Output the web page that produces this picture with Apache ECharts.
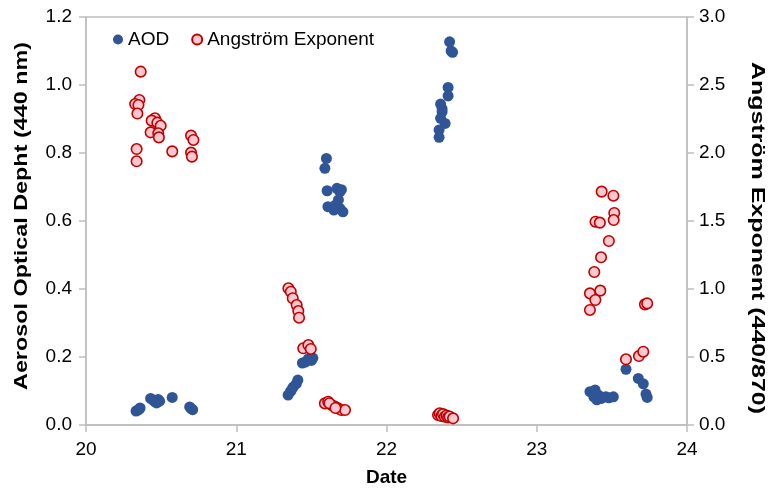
<!DOCTYPE html>
<html>
<head>
<meta charset="utf-8">
<script src="https://cdn.jsdelivr.net/npm/echarts@6/dist/echarts.min.js"></script>
<style>
html,body{margin:0;padding:0;background:#fff;}
#c{width:769px;height:489px;}
</style>
</head>
<body>
<div id="c"></div>
<script>
// AOD (left axis)
const aodDate = [
  20.333,20.345,20.355,20.36,20.43,20.45,20.47,20.48,20.49,20.46,20.574,20.69,20.70,20.71,
  21.345,21.36,21.37,21.38,21.40,21.41,21.44,21.46,21.48,21.50,21.51,
  21.60,21.59,21.605,21.67,21.69,21.68,21.61,21.65,21.69,21.71,21.66,21.70,
  22.42,22.44,22.43,22.41,22.41,22.36,22.37,22.36,22.39,22.35,22.35,22.37,
  23.354,23.388,23.38,23.41,23.43,23.46,23.51,23.40,23.48,23.594,23.676,23.709,23.727,23.735
];
const aodValue = [
  0.041,0.044,0.047,0.050,0.078,0.072,0.065,0.075,0.070,0.068,0.081,0.053,0.048,0.045,
  0.088,0.098,0.105,0.112,0.122,0.132,0.182,0.185,0.195,0.190,0.197,
  0.784,0.755,0.689,0.696,0.686,0.662,0.642,0.632,0.637,0.627,0.647,0.692,
  1.127,1.096,1.100,0.993,0.968,0.944,0.921,0.902,0.887,0.868,0.846,0.930,
  0.098,0.103,0.083,0.088,0.078,0.083,0.083,0.074,0.080,0.164,0.137,0.121,0.091,0.081
];
// Angström Exponent (right axis)
const aeDate = [
  20.364,20.355,20.327,20.349,20.342,20.459,20.437,20.475,20.497,20.43,20.481,20.485,20.337,20.337,20.574,20.699,20.715,20.699,20.705,
  21.347,21.363,21.376,21.402,21.413,21.418,21.446,21.48,21.496,21.59,21.612,21.634,21.656,21.678,21.70,21.724,21.62,21.66,
  22.343,22.354,22.365,22.376,22.388,22.40,22.41,22.42,22.443,
  23.432,23.51,23.516,23.512,23.391,23.42,23.48,23.428,23.383,23.423,23.354,23.39,23.354,23.72,23.735,23.594,23.68,23.709
];
const aeValue = [
  2.598,2.39,2.36,2.353,2.29,2.255,2.238,2.223,2.20,2.152,2.145,2.115,2.029,1.939,2.012,2.128,2.096,2.003,1.973,
  1.005,0.98,0.932,0.882,0.838,0.789,0.564,0.588,0.559,0.159,0.171,0.147,0.135,0.122,0.110,0.110,0.16,0.125,
  0.074,0.086,0.066,0.080,0.061,0.070,0.056,0.062,0.049,
  1.716,1.686,1.559,1.507,1.495,1.488,1.353,1.233,1.125,0.988,0.968,0.919,0.846,0.887,0.894,0.483,0.507,0.539
];
const xTicks = [20,21,22,23,24];
const seriesNames = ['AOD','Angström Exponent'];
const axisTitles = ['Date','Aerosol Optical Depht (440 nm)','Angström Exponent (440/870)'];

const font = 'Liberation Sans, Arial, sans-serif';
const axisCol = '#bfbfbf';
const titleFont = 'bold 19px ' + font;
const chart = echarts.init(document.getElementById('c'));
const pairs = (xs, ys) => xs.map((x, i) => [x, ys[i]]);

// measure title widths to stretch them like the reference
const ctx = document.createElement('canvas').getContext('2d');
ctx.font = titleFont;
const wLeft = ctx.measureText(axisTitles[1]).width;
const wRight = ctx.measureText(axisTitles[2]).width;

chart.setOption({
  animation: false,
  grid: {left: 86, right: 82, top: 17, bottom: 64, show: true, borderColor: axisCol, borderWidth: 1.5,
         containLabel: false, outerBoundsMode: 'none'},
  legend: {
    left: 108, top: 25, itemGap: 22, itemWidth: 10, itemHeight: 10,
    textStyle: {fontFamily: font, fontSize: 19, color: '#000'},
    data: [
      {name: seriesNames[0], icon: 'circle'},
      {name: seriesNames[1], icon: 'circle'}
    ]
  },
  graphic: [
    {type: 'text', x: 22, y: 216, rotation: Math.PI / 2, scaleX: 348 / wLeft,
     style: {text: axisTitles[1], font: titleFont, fill: '#000', align: 'center', verticalAlign: 'middle'}},
    {type: 'text', x: 757, y: 238, rotation: -Math.PI / 2, scaleX: 352 / wRight,
     style: {text: axisTitles[2], font: titleFont, fill: '#000', align: 'center', verticalAlign: 'middle'}}
  ],
  xAxis: {
    type: 'value', min: xTicks[0], max: xTicks[xTicks.length - 1], interval: 1,
    name: axisTitles[0], nameLocation: 'middle', nameGap: 43,
    nameTextStyle: {fontFamily: font, fontSize: 19, fontWeight: 'bold', color: '#000'},
    axisLine: {show: true, lineStyle: {color: axisCol, width: 1.5}},
    axisTick: {show: true, length: 7, lineStyle: {color: axisCol, width: 1.5}},
    axisLabel: {fontFamily: font, fontSize: 19, color: '#000', margin: 15},
    splitLine: {show: false}
  },
  yAxis: [
    {
      type: 'value', min: 0, max: 1.2, interval: 0.2, position: 'left',
      axisLine: {show: true, lineStyle: {color: axisCol, width: 1.5}},
      axisTick: {show: true, length: 7, lineStyle: {color: axisCol, width: 1.5}},
      axisLabel: {fontFamily: font, fontSize: 19, color: '#000', margin: 14, formatter: v => v.toFixed(1)},
      splitLine: {show: false}
    },
    {
      type: 'value', min: 0, max: 3.0, interval: 0.5, position: 'right',
      axisLine: {show: true, lineStyle: {color: axisCol, width: 1.5}},
      axisTick: {show: true, length: 7, lineStyle: {color: axisCol, width: 1.5}},
      axisLabel: {fontFamily: font, fontSize: 19, color: '#000', margin: 12, formatter: v => v.toFixed(1)},
      splitLine: {show: false}
    }
  ],
  series: [
    {
      name: seriesNames[0], type: 'scatter', yAxisIndex: 0, symbol: 'circle', symbolSize: 11,
      itemStyle: {color: '#2f5597', opacity: 1},
      data: pairs(aodDate, aodValue)
    },
    {
      name: seriesNames[1], type: 'scatter', yAxisIndex: 1, symbol: 'circle', symbolSize: 10.5,
      itemStyle: {color: '#ffc7ce', borderColor: '#c00000', borderWidth: 1.6, opacity: 1},
      data: pairs(aeDate, aeValue)
    }
  ]
});
</script>
</body>
</html>
